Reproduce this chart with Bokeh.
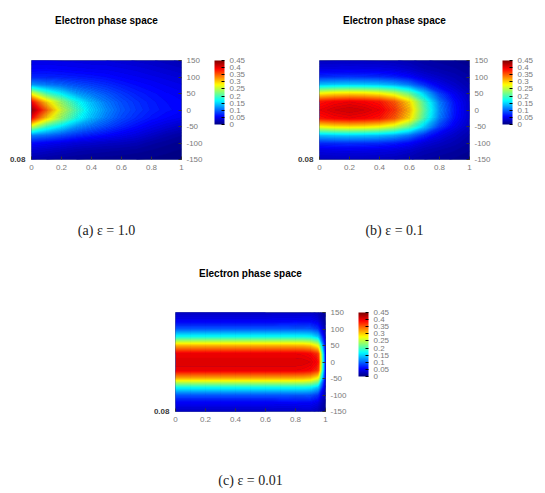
import numpy as np
from bokeh.plotting import figure
from bokeh.models import (LinearColorMapper, ColorBar, FixedTicker, PrintfTickFormatter,
                          LinearAxis, Range1d, Spacer, AllLabels)
from bokeh.layouts import row, column
from bokeh.embed import file_html
from bokeh.resources import INLINE

# ---------------- data ----------------
panel_title = "Electron phase space"
captions = ["(a) ε = 1.0", "(b) ε = 0.1", "(c) ε = 0.01"]
x_ticks = [0, 0.2, 0.4, 0.6, 0.8, 1]
v_ticks = [-150, -100, -50, 0, 50, 100, 150]
cbar_ticks = [0, 0.05, 0.1, 0.15, 0.2, 0.25, 0.3, 0.35, 0.4, 0.45]
v_rows = [150, 125, 100, 75, 50, 25, 0, -25, -50, -75, -100, -125, -150]
corner_label = "0.08"

# panel (a): columns x = 0, 0.1, ..., 1.0 ; rows v = 150 ... -150
x_a = [0, 0.1, 0.2, 0.3, 0.4, 0.5, 0.6, 0.7, 0.8, 0.9, 1.0]
density_a = [
    [0.045, 0.045, 0.044, 0.043, 0.041, 0.040, 0.037, 0.034, 0.031, 0.027, 0.023],
    [0.055, 0.056, 0.054, 0.052, 0.050, 0.049, 0.046, 0.043, 0.039, 0.035, 0.031],
    [0.072, 0.072, 0.070, 0.067, 0.064, 0.060, 0.055, 0.051, 0.047, 0.043, 0.039],
    [0.130, 0.115, 0.105, 0.093, 0.084, 0.076, 0.067, 0.060, 0.055, 0.050, 0.046],
    [0.270, 0.200, 0.165, 0.130, 0.110, 0.094, 0.080, 0.069, 0.062, 0.056, 0.052],
    [0.390, 0.300, 0.235, 0.180, 0.140, 0.110, 0.090, 0.077, 0.067, 0.060, 0.056],
    [0.440, 0.350, 0.260, 0.200, 0.150, 0.118, 0.094, 0.080, 0.069, 0.062, 0.057],
    [0.390, 0.300, 0.235, 0.180, 0.140, 0.110, 0.088, 0.074, 0.063, 0.055, 0.049],
    [0.260, 0.195, 0.160, 0.125, 0.105, 0.088, 0.072, 0.060, 0.049, 0.040, 0.032],
    [0.120, 0.110, 0.095, 0.080, 0.069, 0.060, 0.051, 0.043, 0.033, 0.023, 0.016],
    [0.060, 0.053, 0.047, 0.040, 0.036, 0.032, 0.029, 0.025, 0.017, 0.012, 0.008],
    [0.035, 0.031, 0.026, 0.021, 0.018, 0.016, 0.014, 0.012, 0.009, 0.006, 0.004],
    [0.020, 0.015, 0.012, 0.010, 0.008, 0.007, 0.006, 0.005, 0.004, 0.003, 0.002],
]

# panel (b): columns x = 0, 0.1, ..., 1.0
x_b = [0, 0.1, 0.2, 0.3, 0.4, 0.5, 0.6, 0.7, 0.8, 0.9, 1.0]
density_b = [
    [0.028, 0.029, 0.029, 0.029, 0.028, 0.026, 0.022, 0.016, 0.013, 0.010, 0.007],
    [0.044, 0.045, 0.046, 0.045, 0.044, 0.041, 0.034, 0.025, 0.020, 0.016, 0.011],
    [0.076, 0.078, 0.079, 0.078, 0.076, 0.070, 0.059, 0.042, 0.032, 0.024, 0.016],
    [0.148, 0.152, 0.154, 0.152, 0.148, 0.137, 0.115, 0.080, 0.050, 0.034, 0.021],
    [0.280, 0.290, 0.293, 0.290, 0.280, 0.258, 0.215, 0.150, 0.085, 0.050, 0.029],
    [0.385, 0.395, 0.400, 0.395, 0.385, 0.355, 0.295, 0.200, 0.113, 0.062, 0.034],
    [0.400, 0.410, 0.415, 0.410, 0.400, 0.370, 0.310, 0.210, 0.120, 0.065, 0.035],
    [0.385, 0.395, 0.400, 0.395, 0.385, 0.355, 0.295, 0.200, 0.113, 0.062, 0.034],
    [0.280, 0.290, 0.293, 0.290, 0.280, 0.258, 0.215, 0.150, 0.085, 0.050, 0.029],
    [0.147, 0.151, 0.153, 0.151, 0.147, 0.136, 0.114, 0.079, 0.049, 0.033, 0.020],
    [0.075, 0.077, 0.078, 0.077, 0.075, 0.069, 0.058, 0.041, 0.031, 0.023, 0.015],
    [0.043, 0.044, 0.045, 0.044, 0.043, 0.040, 0.033, 0.024, 0.019, 0.015, 0.010],
    [0.027, 0.028, 0.028, 0.028, 0.027, 0.025, 0.021, 0.015, 0.012, 0.009, 0.006],
]

# panel (c): columns x = 0, 0.05, ..., 1.0
x_c = [0, 0.05, 0.1, 0.15, 0.2, 0.25, 0.3, 0.35, 0.4, 0.45, 0.5,
       0.55, 0.6, 0.65, 0.7, 0.75, 0.8, 0.85, 0.9, 0.95, 1.0]
density_c = [
    [0.030, 0.030, 0.030, 0.030, 0.030, 0.030, 0.030, 0.030, 0.030, 0.030, 0.030, 0.030, 0.030, 0.031, 0.031, 0.031, 0.032, 0.033, 0.033, 0.026, 0.008],
    [0.052, 0.052, 0.052, 0.052, 0.052, 0.052, 0.052, 0.052, 0.052, 0.052, 0.052, 0.052, 0.052, 0.052, 0.053, 0.053, 0.054, 0.055, 0.055, 0.046, 0.012],
    [0.095, 0.095, 0.095, 0.095, 0.095, 0.095, 0.095, 0.095, 0.095, 0.095, 0.095, 0.095, 0.095, 0.095, 0.095, 0.095, 0.096, 0.096, 0.094, 0.080, 0.018],
    [0.180, 0.180, 0.180, 0.180, 0.180, 0.180, 0.180, 0.180, 0.180, 0.180, 0.180, 0.180, 0.180, 0.180, 0.180, 0.180, 0.180, 0.179, 0.175, 0.150, 0.024],
    [0.310, 0.310, 0.310, 0.310, 0.310, 0.310, 0.310, 0.310, 0.310, 0.310, 0.310, 0.310, 0.310, 0.310, 0.310, 0.310, 0.309, 0.308, 0.300, 0.270, 0.030],
    [0.400, 0.400, 0.400, 0.400, 0.400, 0.400, 0.400, 0.400, 0.400, 0.400, 0.400, 0.400, 0.400, 0.400, 0.400, 0.400, 0.400, 0.398, 0.392, 0.370, 0.034],
    [0.410, 0.410, 0.410, 0.410, 0.410, 0.410, 0.410, 0.410, 0.410, 0.410, 0.410, 0.410, 0.410, 0.410, 0.410, 0.410, 0.410, 0.409, 0.405, 0.390, 0.035],
    [0.400, 0.400, 0.400, 0.400, 0.400, 0.400, 0.400, 0.400, 0.400, 0.400, 0.400, 0.400, 0.400, 0.400, 0.400, 0.400, 0.400, 0.398, 0.392, 0.370, 0.034],
    [0.310, 0.310, 0.310, 0.310, 0.310, 0.310, 0.310, 0.310, 0.310, 0.310, 0.310, 0.310, 0.310, 0.310, 0.310, 0.310, 0.309, 0.308, 0.300, 0.270, 0.030],
    [0.180, 0.180, 0.180, 0.180, 0.180, 0.180, 0.180, 0.180, 0.180, 0.180, 0.180, 0.180, 0.180, 0.180, 0.180, 0.180, 0.180, 0.179, 0.175, 0.150, 0.024],
    [0.095, 0.095, 0.095, 0.095, 0.095, 0.095, 0.095, 0.095, 0.095, 0.095, 0.095, 0.095, 0.095, 0.095, 0.095, 0.095, 0.096, 0.096, 0.094, 0.080, 0.018],
    [0.052, 0.052, 0.052, 0.052, 0.052, 0.052, 0.052, 0.052, 0.052, 0.052, 0.052, 0.052, 0.052, 0.052, 0.053, 0.053, 0.054, 0.055, 0.055, 0.046, 0.012],
    [0.030, 0.030, 0.030, 0.030, 0.030, 0.030, 0.030, 0.030, 0.030, 0.030, 0.030, 0.030, 0.030, 0.031, 0.031, 0.031, 0.032, 0.033, 0.033, 0.026, 0.008],
]


# ---------------- styling helpers ----------------
def jet_color(t):
    r = min(max(1.5 - abs(4 * t - 3), 0), 1)
    g = min(max(1.5 - abs(4 * t - 2), 0), 1)
    b = min(max(1.5 - abs(4 * t - 1), 0), 1)
    return "#%02x%02x%02x" % (int(r * 255), int(g * 255), int(b * 255))


JET = [jet_color(i / 255) for i in range(256)]
C_LOW, C_HIGH = 0.0, 0.45
N_BANDS = 90
LEVELS = [C_LOW + (C_HIGH - C_LOW) * i / N_BANDS for i in range(N_BANDS + 1)]
FILL_COLS = [jet_color((i + 0.5) / N_BANDS) for i in range(N_BANDS)]
LINE_COLS = [jet_color(i / N_BANDS) for i in range(N_BANDS + 1)]
GRAY = "#7a7a7a"


def style_axis(ax, ticks):
    ax.ticker = FixedTicker(ticks=ticks)
    ax.formatter = PrintfTickFormatter(format="%g")
    ax.major_tick_in = 3
    ax.major_tick_out = 0
    ax.minor_tick_line_color = None
    ax.major_tick_line_color = "#333333"
    ax.axis_line_color = None
    ax.major_label_text_font = "Liberation Sans"
    ax.major_label_text_font_size = "8px"
    ax.major_label_text_color = GRAY
    ax.major_label_standoff = 5


def make_panel(grid, xs, caption, W, H, left, top, title_gap, cap_gap, fw=150, fh=99):
    z = np.array(grid, dtype=float)[::-1]
    ys = v_rows[::-1]
    mapper = LinearColorMapper(palette=JET, low=C_LOW, high=C_HIGH)
    p = figure(width=W, height=H, x_range=Range1d(0, 1), y_range=Range1d(-150, 150),
               output_backend="svg", toolbar_location=None,
               y_axis_location="right",
               min_border_left=left, min_border_top=top,
               min_border_right=W - left - fw, min_border_bottom=H - top - fh)
    p.contour(x=xs, y=ys, z=z, levels=LEVELS,
              fill_color=FILL_COLS, line_color=LINE_COLS, line_width=0.8)
    p.grid.visible = False
    p.outline_line_color = "#2a3a8a"
    p.outline_line_width = 0.6
    p.background_fill_color = "#00007f"
    p.border_fill_color = "white"

    style_axis(p.xaxis[0], x_ticks)
    style_axis(p.yaxis[0], v_ticks)

    # caption under the panel, carried by the x axis label
    xa = p.xaxis[0]
    xa.axis_label = caption
    xa.axis_label_standoff = cap_gap
    xa.axis_label_text_font = "Liberation Serif"
    xa.axis_label_text_font_size = "14px"
    xa.axis_label_text_font_style = "normal"
    xa.axis_label_text_color = "#222222"

    # panel title, carried by an (empty) top axis label
    top_ax = LinearAxis(ticker=FixedTicker(ticks=[]), axis_label=panel_title,
                        axis_label_standoff=title_gap, axis_line_color=None,
                        major_tick_in=0, major_tick_out=0, major_label_standoff=0,
                        minor_tick_line_color=None, major_tick_line_color=None,
                        axis_label_text_font="Liberation Sans",
                        axis_label_text_font_size="10px",
                        axis_label_text_font_style="bold",
                        axis_label_text_color="black")
    p.add_layout(top_ax, "above")

    left_ax = LinearAxis(ticker=FixedTicker(ticks=[-150]),
                         major_label_overrides={-150: corner_label},
                         major_tick_in=0, major_tick_out=0, axis_line_color=None,
                         minor_tick_line_color=None, major_tick_line_color=None,
                         major_label_standoff=6,
                         major_label_text_font="Liberation Sans",
                         major_label_text_font_size="8px",
                         major_label_text_font_style="bold",
                         major_label_text_color="#3a3a3a")
    p.add_layout(left_ax, "left")

    cb = ColorBar(color_mapper=mapper, ticker=FixedTicker(ticks=cbar_ticks),
                  formatter=PrintfTickFormatter(format="%g"),
                  major_label_policy=AllLabels(),
                  width=10, height=64, margin=0, padding=0, label_standoff=5,
                  location=(9, fh - 64),
                  major_label_text_font="Liberation Sans",
                  major_label_text_font_size="8px", major_label_text_color=GRAY,
                  major_tick_line_color="black", major_tick_in=3, major_tick_out=0,
                  minor_tick_line_color=None, bar_line_color=None,
                  border_line_color=None, background_fill_alpha=0)
    p.add_layout(cb, "right")
    return p


pa = make_panel(density_a, x_a, captions[0], 272, 250, 31, 60, 35, 50)
pb = make_panel(density_b, x_b, captions[1], 273, 250, 47, 60, 35, 50)
pc = make_panel(density_c, x_c, captions[2], 300, 243, 45, 62, 34, 48)

layout = column(row(pa, pb), row(Spacer(width=130, height=243), pc))
open("out.html", "w").write(file_html(layout, INLINE))
